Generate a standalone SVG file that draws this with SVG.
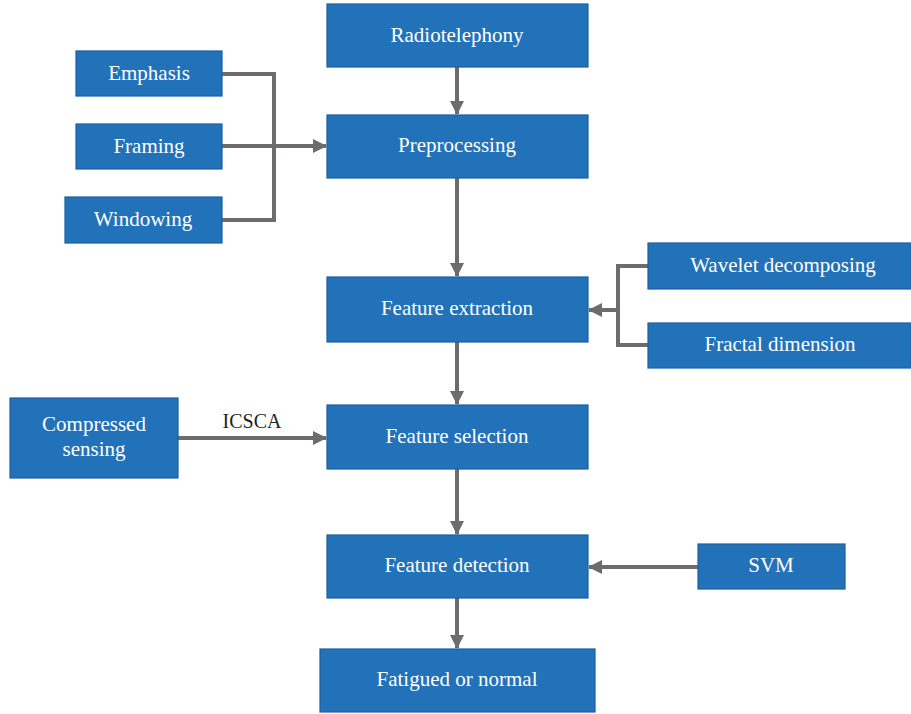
<svg xmlns="http://www.w3.org/2000/svg" width="911" height="714" viewBox="0 0 911 714">
<style>
.box{fill:#2272ba;stroke:#1b5f9f;stroke-width:1.2}
.t{font-family:"Liberation Serif",serif;font-size:21px;fill:#ffffff;text-anchor:middle}
.lbl{font-family:"Liberation Serif",serif;font-size:20px;fill:#231f20;text-anchor:middle}
.c{fill:none;stroke:#6d6b6c;stroke-width:4}
</style>
<defs>
<marker id="ah" markerUnits="userSpaceOnUse" markerWidth="14" markerHeight="14" viewBox="0 0 14 14" refX="13" refY="7" orient="auto">
<path d="M0,0 L14,7 L0,14 Z" fill="#6d6b6c"/>
</marker>
</defs>
<g id="connectors">
<line class="c" x1="457" y1="67" x2="457" y2="114" marker-end="url(#ah)"/>
<line class="c" x1="457" y1="178" x2="457" y2="276" marker-end="url(#ah)"/>
<line class="c" x1="457" y1="342" x2="457" y2="404" marker-end="url(#ah)"/>
<line class="c" x1="457" y1="469" x2="457" y2="534" marker-end="url(#ah)"/>
<line class="c" x1="457" y1="598" x2="457" y2="648" marker-end="url(#ah)"/>
<polyline class="c" points="222,74 274,74 274,220 222,220"/>
<line class="c" x1="222" y1="146" x2="326" y2="146" marker-end="url(#ah)"/>
<polyline class="c" points="648,266 618,266 618,345 648,345"/>
<line class="c" x1="618" y1="310" x2="589" y2="310" marker-end="url(#ah)"/>
<line class="c" x1="178" y1="438" x2="326" y2="438" marker-end="url(#ah)"/>
<line class="c" x1="698" y1="567" x2="589" y2="567" marker-end="url(#ah)"/>
<text class="lbl" x="252" y="428">ICSCA</text>
</g>
<g id="radiotelephony"><rect class="box" x="327" y="4" width="261" height="63"/><text class="t" x="457" y="42">Radiotelephony</text></g>
<g id="preprocessing"><rect class="box" x="327" y="115" width="261" height="63"/><text class="t" x="457" y="152">Preprocessing</text></g>
<g id="emphasis"><rect class="box" x="76" y="51" width="146" height="45"/><text class="t" x="149" y="80">Emphasis</text></g>
<g id="framing"><rect class="box" x="76" y="124" width="146" height="45"/><text class="t" x="149" y="153">Framing</text></g>
<g id="windowing"><rect class="box" x="65" y="197" width="157" height="46"/><text class="t" x="143" y="226">Windowing</text></g>
<g id="feature-extraction"><rect class="box" x="327" y="277" width="261" height="65"/><text class="t" x="457" y="315">Feature extraction</text></g>
<g id="wavelet"><rect class="box" x="648" y="243" width="263" height="46"/><text class="t" x="783" y="272">Wavelet decomposing</text></g>
<g id="fractal"><rect class="box" x="648" y="323" width="263" height="45"/><text class="t" x="780" y="351">Fractal dimension</text></g>
<g id="compressed"><rect class="box" x="10" y="398" width="168" height="80"/><text class="t" x="94" y="431">Compressed</text><text class="t" x="94" y="456">sensing</text></g>
<g id="feature-selection"><rect class="box" x="327" y="405" width="261" height="64"/><text class="t" x="457" y="443">Feature selection</text></g>
<g id="feature-detection"><rect class="box" x="327" y="535" width="261" height="63"/><text class="t" x="457" y="572">Feature detection</text></g>
<g id="svm"><rect class="box" x="698" y="544" width="147" height="45"/><text class="t" x="771" y="572">SVM</text></g>
<g id="fatigued"><rect class="box" x="320" y="649" width="275" height="63"/><text class="t" x="457" y="686">Fatigued or normal</text></g>
</svg>
